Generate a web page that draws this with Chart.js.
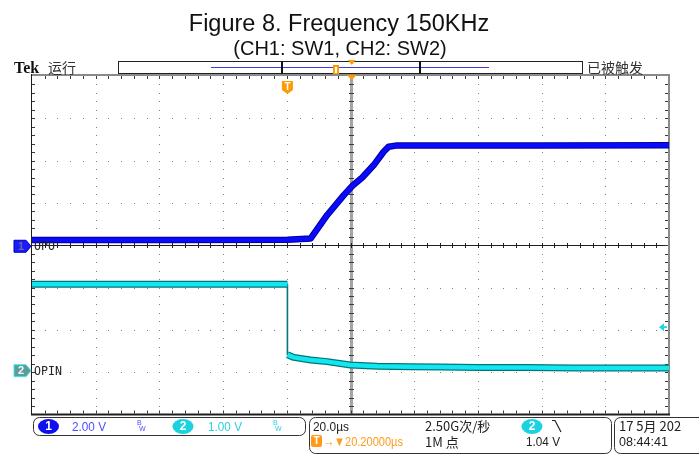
<!DOCTYPE html>
<html>
<head>
<meta charset="utf-8">
<title>Figure 8. Frequency 150KHz</title>
<script src="https://cdn.jsdelivr.net/npm/chart.js@4.4.1/dist/chart.umd.min.js"></script>
<style>
  html, body { margin: 0; padding: 0; background: #fff; }
  #scope { display: block; }
</style>
</head>
<body>
<canvas id="scope" width="699" height="454"></canvas>
<script>
// time axis in µs, trigger at 0 (screen centre is +20.2 µs, 20 µs/div)
const timeMin = -80.2;
const timeMax = 119.8;

// CH1 (SW1) - 2.00 V/div, ground at the centre line
const ch1Time  = [-80.2, -40, 0, 7.3, 12.5, 17.7, 20.5, 23.5, 27.1, 30.2, 31.8, 34, 50, 80, 119.8];
const ch1Volts = [0.25, 0.25, 0.26, 0.32, 1.43, 2.37, 2.82, 3.2, 3.79, 4.42, 4.66, 4.71, 4.72, 4.72, 4.73];

// CH2 (SW2) - 1.00 V/div, ground 3 div below centre
const ch2Time  = [-80.2, -50, -20, 0, 0, 2, 7.3, 12.5, 19.8, 28.2, 38.6, 48, 60, 75, 90, 105, 119.8];
const ch2Volts = [2.08, 2.08, 2.08, 2.08, 0.41, 0.35, 0.29, 0.25, 0.17, 0.14, 0.13, 0.12, 0.11, 0.11, 0.10, 0.10, 0.10];

const ch1VoltsPerDiv = 2.0;
const ch1OffsetDiv = 0;
const ch2VoltsPerDiv = 1.0;
const ch2OffsetDiv = -3;
const triggerLevel = 1.04; // V on CH2

const narrow = '"Liberation Sans Narrow", "Arial Narrow", "Liberation Sans", sans-serif';
const cjk = '"Noto Sans CJK SC", sans-serif';

const toPoints = (times, volts, vpd, off) =>
  times.map((t, i) => ({ x: t, y: volts[i] / vpd + off }));

const ch1Points = toPoints(ch1Time, ch1Volts, ch1VoltsPerDiv, ch1OffsetDiv);
const ch2Points = toPoints(ch2Time, ch2Volts, ch2VoltsPerDiv, ch2OffsetDiv);

const isEdge = (c) => c.p0.parsed.x === c.p1.parsed.x;

// graticule, frame and all the scope screen decorations
const scopeScreen = {
  id: 'scopeScreen',
  beforeDraw(chart) {
    const ctx = chart.ctx;
    ctx.save();
    ctx.fillStyle = '#fff';
    ctx.fillRect(0, 0, chart.width, chart.height);
    ctx.restore();
  },
  beforeDatasetsDraw(chart) {
    const { ctx, chartArea: a } = chart;
    const w = a.right - a.left, h = a.bottom - a.top;
    const divX = w / 10, divY = h / 8;
    const cx = Math.round(a.left + 5 * divX), cy = Math.round(a.top + 4 * divY);
    ctx.save();

    // dotted grid
    ctx.fillStyle = '#7e7e7e';
    for (let i = 1; i < 10; i++) {
      if (i === 5) continue;
      const gx = Math.round(a.left + i * divX);
      for (let k = 1; k < 40; k++) ctx.fillRect(gx, Math.round(a.top + k * divY / 5), 1, 1);
    }
    for (let j = 1; j < 8; j++) {
      if (j === 4) continue;
      const gy = Math.round(a.top + j * divY);
      for (let k = 1; k < 50; k++) ctx.fillRect(Math.round(a.left + k * divX / 5), gy, 1, 1);
    }

    // centre lines
    ctx.fillStyle = '#a4a4a4';
    ctx.fillRect(cx - 1, a.top, 3, h);
    ctx.fillStyle = '#3a3a3a';
    for (let k = 1; k < 40; k++) ctx.fillRect(cx - 2, Math.round(a.top + k * divY / 5), 5, 1);
    ctx.fillStyle = '#1e1e1e';
    ctx.fillRect(a.left, cy, w, 1);
    for (let k = 1; k < 50; k++) ctx.fillRect(Math.round(a.left + k * divX / 5), cy - 2, 1, 5);

    // frame with edge ticks
    ctx.fillStyle = '#8a8a8a';
    ctx.fillRect(a.left, a.top - 2, w + 1, 2);
    ctx.fillRect(a.right - 1, a.top - 2, 2, h + 2);
    ctx.fillStyle = '#1e1e1e';
    ctx.fillRect(a.left - 1, a.top - 2, 1, h + 2);
    ctx.fillRect(a.left - 1, a.bottom - 1, w + 2, 2);
    ctx.fillStyle = '#3a3a3a';
    for (let k = 1; k < 50; k++) {
      const tx = Math.round(a.left + k * divX / 5);
      ctx.fillRect(tx, a.top, 1, 3);
      ctx.fillRect(tx, a.bottom - 4, 1, 3);
    }
    for (let k = 1; k < 40; k++) {
      const ty = Math.round(a.top + k * divY / 5);
      ctx.fillRect(a.left, ty, 3, 1);
      ctx.fillRect(a.right - 4, ty, 3, 1);
    }
    ctx.restore();
  },
  afterDraw(chart) {
    const { ctx, chartArea: a, scales: { x, y } } = chart;
    ctx.save();

    // title
    ctx.fillStyle = '#111';
    ctx.textAlign = 'center';
    ctx.textBaseline = 'alphabetic';
    ctx.font = '23.5px "Liberation Sans", Arial, sans-serif';
    ctx.fillText('Figure 8. Frequency 150KHz', 339, 31, 308);
    ctx.font = '20px "Liberation Sans", Arial, sans-serif';
    ctx.fillText('(CH1: SW1, CH2: SW2)', 340, 55, 224);

    // header line
    ctx.textAlign = 'left';
    ctx.font = 'bold 16px "Liberation Serif", serif';
    ctx.fillText('Tek', 14, 73);
    ctx.fillStyle = '#333';
    ctx.font = '14px ' + cjk;
    ctx.fillText('运行', 48, 73);
    ctx.fillText('已被触发', 587, 73, 62);

    // record bar
    ctx.strokeStyle = '#222';
    ctx.lineWidth = 1;
    ctx.strokeRect(118.5, 61.5, 464, 12);
    ctx.strokeStyle = '#3b3bdf';
    ctx.beginPath(); ctx.moveTo(211, 67.5); ctx.lineTo(489, 67.5); ctx.stroke();
    ctx.fillStyle = '#111';
    ctx.fillRect(281, 61, 2, 13);
    ctx.fillRect(419, 61, 2, 13);
    ctx.fillStyle = '#ff9a00';
    ctx.fillRect(333, 65, 6, 9);
    ctx.fillStyle = '#fff';
    ctx.fillRect(335, 67, 2, 6);
    const trigX = x.getPixelForValue(20.2);
    ctx.fillStyle = '#ff9a00';
    ctx.beginPath(); ctx.moveTo(trigX - 4, 60); ctx.lineTo(trigX + 4, 60); ctx.lineTo(trigX, 65); ctx.fill();
    ctx.beginPath(); ctx.moveTo(trigX - 5, a.top - 1); ctx.lineTo(trigX + 5, a.top - 1); ctx.lineTo(trigX, a.top + 4); ctx.fill();

    // trigger position marker
    const tX = x.getPixelForValue(0);
    ctx.beginPath();
    ctx.moveTo(tX - 5.5, 81); ctx.lineTo(tX + 5.5, 81); ctx.lineTo(tX + 5.5, 90);
    ctx.lineTo(tX, 94); ctx.lineTo(tX - 5.5, 90); ctx.closePath(); ctx.fill();
    ctx.fillStyle = '#fff';
    ctx.font = 'bold 10px "Liberation Sans", sans-serif';
    ctx.textAlign = 'center';
    ctx.textBaseline = 'middle';
    ctx.fillText('T', tX, 87);

    // channel ground markers and labels
    const marker = (yc, fill, edge, txtColor, label, name) => {
      ctx.beginPath();
      ctx.moveTo(14, yc - 6); ctx.lineTo(26, yc - 6); ctx.lineTo(31, yc);
      ctx.lineTo(26, yc + 6); ctx.lineTo(14, yc + 6); ctx.closePath();
      ctx.fillStyle = fill; ctx.fill();
      ctx.strokeStyle = edge; ctx.lineWidth = 1; ctx.stroke();
      ctx.fillStyle = txtColor;
      ctx.font = 'bold 11px "Liberation Sans", sans-serif';
      ctx.textAlign = 'center';
      ctx.fillText(label, 21, yc + 0.5);
      ctx.fillStyle = '#222';
      ctx.font = '13px "DejaVu Sans Mono", monospace';
      ctx.textAlign = 'left';
      ctx.fillText(name, 34, yc + 0.5, name.length * 7);
    };
    marker(y.getPixelForValue(ch1OffsetDiv) + 1, '#1a1aff', '#0000b0', '#6a6a9a', '1', 'OPO');
    marker(y.getPixelForValue(ch2OffsetDiv) - 1.5, '#5e9c9c', '#3fe6ee', '#e8ffff', '2', 'OPIN');

    // trigger level arrow on the right edge
    const tlY = y.getPixelForValue(triggerLevel / ch2VoltsPerDiv + ch2OffsetDiv) - 1;
    ctx.fillStyle = '#22d6e0';
    ctx.beginPath();
    ctx.moveTo(a.right - 10, tlY); ctx.lineTo(a.right - 5, tlY - 4); ctx.lineTo(a.right - 5, tlY + 4); ctx.fill();
    ctx.fillRect(a.right - 6, tlY - 1, 4, 2);

    // status boxes
    const box = (bx, by, bw, bh) => {
      ctx.beginPath();
      ctx.roundRect(bx, by, bw, bh, 6);
      ctx.strokeStyle = '#333'; ctx.lineWidth = 1; ctx.stroke();
    };
    box(33.5, 417.5, 272, 18);
    box(309.5, 417.5, 302, 36);
    box(614.5, 417.5, 95, 36);

    const badge = (bcx, bcy, fill, label) => {
      ctx.beginPath();
      ctx.ellipse(bcx, bcy, 10.5, 7.5, 0, 0, Math.PI * 2);
      ctx.fillStyle = fill; ctx.fill();
      ctx.fillStyle = '#fff';
      ctx.font = 'bold 12px "Liberation Sans", sans-serif';
      ctx.textAlign = 'center';
      ctx.fillText(label, bcx, bcy + 0.5);
      ctx.textAlign = 'left';
    };
    const bw = (bx, color) => {
      ctx.fillStyle = color;
      ctx.font = '7px "Liberation Sans", sans-serif';
      ctx.fillText('B', bx, 423);
      ctx.fillText('W', bx + 2, 429);
    };

    ctx.textBaseline = 'middle';
    badge(48.5, 426.5, '#1010ee', '1');
    ctx.font = '13px ' + narrow;
    ctx.fillStyle = '#4d4dff';
    ctx.fillText('2.00 V', 72, 427, 34);
    bw(137, '#4d4dff');
    badge(183, 426.5, '#1bd2e0', '2');
    ctx.font = '13px ' + narrow;
    ctx.fillStyle = '#2ccfdc';
    ctx.fillText('1.00 V', 208, 427, 34);
    bw(273, '#2ccfdc');

    ctx.fillStyle = '#222';
    ctx.font = '13px ' + narrow;
    ctx.fillText('20.0µs', 313, 427, 36);
    ctx.font = '13px ' + cjk;
    ctx.fillText('2.50G次/秒', 425, 426, 68);
    ctx.fillText('1M 点', 425, 442, 38);
    badge(532, 426.5, '#1bd2e0', '2');
    ctx.strokeStyle = '#222';
    ctx.lineWidth = 1.2;
    ctx.beginPath(); ctx.moveTo(552, 420.5); ctx.lineTo(555, 420.5); ctx.lineTo(561, 432); ctx.stroke();
    ctx.fillStyle = '#222';
    ctx.font = '13px ' + narrow;
    ctx.fillText('1.04 V', 526, 442, 34);

    // trigger delay readout
    ctx.fillStyle = '#ff9a1a';
    ctx.beginPath(); ctx.roundRect(311, 435, 11, 12, 2); ctx.fill();
    ctx.fillStyle = '#fff';
    ctx.font = 'bold 10px "Liberation Sans", sans-serif';
    ctx.textAlign = 'center';
    ctx.fillText('T', 316.5, 441.5);
    ctx.textAlign = 'left';
    ctx.fillStyle = '#ff9a1a';
    ctx.font = '13px ' + narrow;
    ctx.fillText('→▼20.20000µs', 323, 442, 80);

    ctx.fillStyle = '#222';
    ctx.font = '13px ' + cjk;
    ctx.fillText('17 5月 202', 619, 426, 72);
    ctx.font = '13px ' + narrow;
    ctx.fillText('08:44:41', 619, 442, 49);

    ctx.restore();
  }
};

new Chart(document.getElementById('scope'), {
  type: 'line',
  data: {
    datasets: [
      {
        label: 'CH1 edge',
        data: ch1Points,
        borderColor: '#00009a',
        borderWidth: 6.5,
        order: 2
      },
      {
        label: 'CH1',
        data: ch1Points,
        borderColor: '#0a0aff',
        borderWidth: 4.5,
        order: 1
      },
      {
        label: 'CH2 edge',
        data: ch2Points,
        borderColor: '#00767c',
        borderWidth: 7,
        order: 2,
        segment: { borderWidth: c => isEdge(c) ? 1.6 : undefined }
      },
      {
        label: 'CH2',
        data: ch2Points,
        borderColor: '#12e6ee',
        borderWidth: 4.5,
        order: 1,
        segment: { borderColor: c => isEdge(c) ? 'rgba(0,0,0,0)' : undefined }
      }
    ]
  },
  options: {
    responsive: false,
    animation: false,
    layout: { padding: { left: 32, right: 30, top: 76, bottom: 39.5 } },
    elements: {
      point: { radius: 0 },
      line: { tension: 0, borderJoinStyle: 'round', borderCapStyle: 'butt' }
    },
    scales: {
      x: { type: 'linear', min: timeMin, max: timeMax, display: false },
      y: { min: -4, max: 4, display: false }
    },
    plugins: {
      legend: { display: false },
      tooltip: { enabled: false },
      title: { display: false }
    }
  },
  plugins: [scopeScreen]
});
</script>
</body>
</html>
